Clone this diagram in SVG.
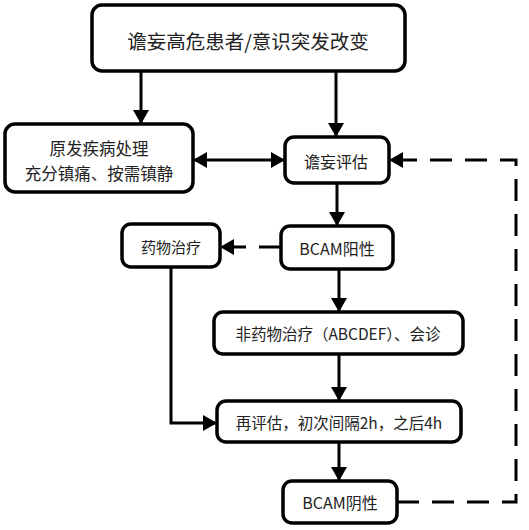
<svg xmlns="http://www.w3.org/2000/svg" width="529" height="530" viewBox="0 0 529 530">
<style>
.box{fill:#fff;stroke:#000;stroke-width:3.5}
.t{font-family:"Noto Sans CJK SC","Liberation Sans",sans-serif;fill:#222;text-anchor:middle;dominant-baseline:central}
.c{fill:none;stroke:#000;stroke-width:3}
.d{fill:none;stroke:#000;stroke-width:3;stroke-dasharray:22 13}
</style>
<defs>
<marker id="ah" markerUnits="userSpaceOnUse" markerWidth="14" markerHeight="16" refX="13" refY="8" orient="auto">
<path d="M0,0 L14,8 L0,16 Z" fill="#000"/>
</marker>
<marker id="as" markerUnits="userSpaceOnUse" markerWidth="14" markerHeight="16" refX="1" refY="8" orient="auto">
<path d="M14,0 L0,8 L14,16 Z" fill="#000"/>
</marker>
</defs>
<rect width="529" height="530" fill="#fff"/>
<g id="connectors">
<line class="c" x1="141" y1="71" x2="141" y2="123" marker-end="url(#ah)"/>
<line class="c" x1="336" y1="71" x2="336" y2="136" marker-end="url(#ah)"/>
<line class="c" x1="194" y1="160" x2="284" y2="160" marker-start="url(#as)" marker-end="url(#ah)"/>
<line class="c" x1="337" y1="183" x2="337" y2="225" marker-end="url(#ah)"/>
<line class="d" x1="281" y1="247" x2="221" y2="247" stroke-dasharray="22 14" marker-end="url(#ah)"/>
<line class="c" x1="339" y1="269" x2="339" y2="311" marker-end="url(#ah)"/>
<line class="c" x1="339" y1="354" x2="339" y2="400" marker-end="url(#ah)"/>
<polyline class="c" points="171,267 171,423 216,423" marker-end="url(#ah)"/>
<line class="c" x1="339" y1="442" x2="339" y2="480" marker-end="url(#ah)"/>
<polyline class="d" points="397,502 516,502 516,160 390,160" marker-end="url(#ah)"/>
</g>
<g id="n1">
<rect class="box" x="92" y="5" width="313" height="66" rx="10"/>
<text class="t" x="248" y="40" font-size="19.5">谵妄高危患者/意识突发改变</text>
</g>
<g id="n2">
<rect class="box" x="5" y="124" width="188" height="68" rx="10"/>
<text class="t" x="99" y="148" font-size="16.5">原发疾病处理</text>
<text class="t" x="99" y="173" font-size="16.5">充分镇痛、按需镇静</text>
</g>
<g id="n3">
<rect class="box" x="285" y="137" width="104" height="46" rx="9"/>
<text class="t" x="336" y="161" font-size="16">谵妄评估</text>
</g>
<g id="n4">
<rect class="box" x="281" y="226" width="112" height="43" rx="9"/>
<text class="t" x="337" y="248" font-size="16">BCAM阳性</text>
</g>
<g id="n5">
<rect class="box" x="122" y="224" width="98" height="43" rx="9"/>
<text class="t" x="171" y="246" font-size="15">药物治疗</text>
</g>
<g id="n6">
<rect class="box" x="214" y="312" width="249" height="42" rx="9"/>
<text class="t" x="338" y="333" font-size="15.5">非药物治疗（ABCDEF）、会诊</text>
</g>
<g id="n7">
<rect class="box" x="217" y="401" width="244" height="41" rx="9"/>
<text class="t" x="339" y="422" font-size="15.5">再评估，初次间隔2h，之后4h</text>
</g>
<g id="n8">
<rect class="box" x="283" y="481" width="114" height="42" rx="9"/>
<text class="t" x="340" y="502" font-size="16">BCAM阴性</text>
</g>
</svg>
